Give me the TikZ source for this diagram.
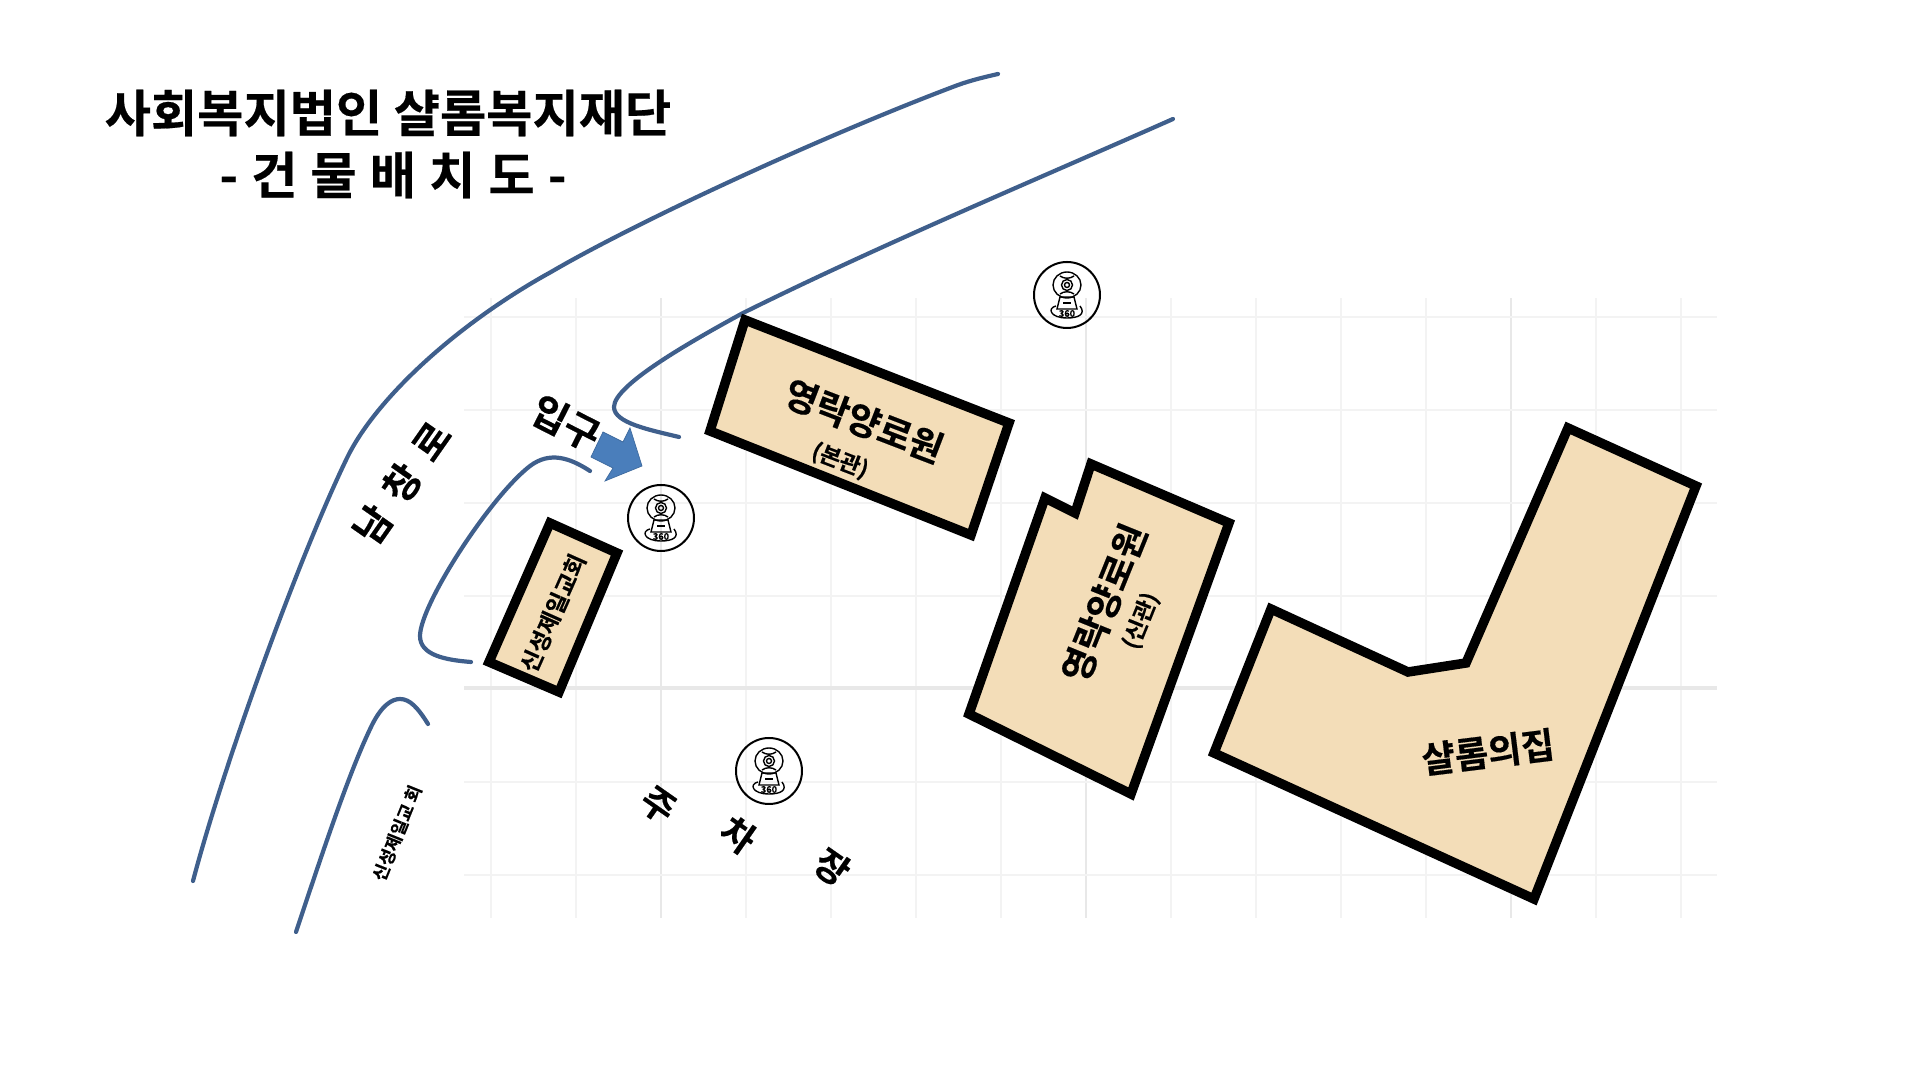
\documentclass[tikz,border=0pt]{standalone}
\usepackage{fontspec}
\setmainfont{Noto Sans CJK KR}[BoldFont={Noto Sans CJK KR Bold}, BoldFeatures={FakeBold=0.4}]
\usepackage{xcolor}
\definecolor{roadblue}{HTML}{3F5F8C}
\definecolor{arrowblue}{HTML}{4A7EBB}
\definecolor{buildfill}{HTML}{F3DDB8}
\definecolor{gridgray}{HTML}{F3F3F3}
\definecolor{gridmajor}{HTML}{E8E8E8}
\tikzset{
  road/.style={draw=roadblue, line width=0.042cm, line cap=round},
  building/.style={draw=black, fill=buildfill, line width=0.095cm, miter limit=10},
  gridline/.style={draw=gridgray, line width=0.4pt},
  majorline/.style={draw=gridmajor, line width=0.6pt},
  bigtext/.style={inner sep=0pt, font=\bfseries\fontsize{14.3}{17}\selectfont},
  buildtext/.style={inner sep=0pt, font=\bfseries\fontsize{10.3}{12}\selectfont},
  subtext/.style={inner sep=0pt, font=\bfseries\fontsize{6.4}{8}\selectfont},
  smalltext/.style={inner sep=0pt, font=\bfseries\fontsize{6.5}{8}\selectfont},
  tinytext/.style={inner sep=0pt, font=\bfseries\fontsize{5}{6}\selectfont},
  widetext/.style={inner sep=0pt, font=\bfseries\fontsize{11}{13}\selectfont, execute at begin node={\spaceskip=0.4em\relax}},
  pics/camera/.style={code={
    \draw[line width=0.02cm] (0,0) circle (33);
    % head and lens
    \draw[line width=0.014cm] (0,-10) ellipse (14 and 13);
    \draw[line width=0.014cm] (0,-10) circle (5.5);
    \draw[line width=0.014cm] (0,-10) circle (2.5);
    \draw[line width=0.014cm] (-7,-19) .. controls (-3,-16) and (3,-16) .. (7,-19);
    \draw[line width=0.014cm] (-7,-1) .. controls (-3,-4) and (3,-4) .. (7,-1);
    % base
    \draw[line width=0.014cm] (-7,2) -- (7,2) -- (10,14) -- (-10,14) -- cycle;
    \draw[line width=0.014cm] (-4,8) -- (4,8);
    \draw[line width=0.014cm] (-11,11) .. controls (-20,13) and (-17,23) .. (0,23) .. controls (12,23) and (19,19) .. (13,11);
    \node[inner sep=0pt, font=\bfseries\fontsize{2.6}{3}\selectfont] (tag) at (0,18.5) {360};
  }}
}
\begin{document}
\begin{tikzpicture}[x=0.01cm, y=-0.01cm]
  \useasboundingbox (0,0) rectangle (1920,1080);
  % site grid
  \foreach \i in {0,1,3,4,5,6,8,9,10,11,13,14}
    \draw[gridline] ({491+85*\i},298) -- ({491+85*\i},918);
  \foreach \i in {2,7,12}
    \draw[majorline] ({491+85*\i},298) -- ({491+85*\i},918);
  \foreach \i in {0,1,2,3,5,6}
    \draw[gridline] (464,{317+93*\i}) -- (1717,{317+93*\i});
  \draw[majorline, line width=0.9pt] (464,688) -- (1717,688);
  % roads
  \draw[road] (193,881) .. controls (225,760) and (300,555) .. (347,458) .. controls (375,400) and (455,325) .. (551,272) .. controls (640,220) and (830,133) .. (958,85) .. controls (972,80) and (985,77) .. (998,74);
  \draw[road] (1173,119) .. controls (1040,178) and (880,245) .. (743,313) .. controls (690,342) and (614,385) .. (614,407) .. controls (614,423) and (650,430) .. (679,437);
  \draw[road] (590,471) .. controls (570,458) and (550,451) .. (530,466) .. controls (490,497) and (420,605) .. (420,636) .. controls (420,655) and (445,660) .. (471,662);
  \draw[road] (296,932) .. controls (325,845) and (350,770) .. (372,725) .. controls (382,705) and (392,699) .. (400,699) .. controls (410,699) and (418,708) .. (428,724);
  % buildings
  \draw[building] (745,320) -- (1009,423) -- (971,535) -- (710,431) -- cycle;
  \draw[building] (1091,464) -- (1229,523) -- (1131,794) -- (969,714) -- (1045,498) -- (1075,513) -- cycle;
  \draw[building] (1568,428) -- (1696,486) -- (1534,899) -- (1214,753) -- (1271,609) -- (1408,672) -- (1466,663) -- cycle;
  \draw[building] (550,523) -- (617,553) -- (559,692) -- (489,662) -- cycle;
  % entrance arrow
  \filldraw[fill=arrowblue, draw=arrowblue!85!black, line width=0.2pt] (603,432) -- (623,442) -- (630,428) -- (642,466) -- (605,481) -- (613,468) -- (591,457) -- cycle;
  % cameras
  \pic (camnorth) at (1067,295) {camera};
  \pic (camgate) at (661,518) {camera};
  \pic (camyard) at (769,771) {camera};
  % labels
  \node[bigtext] (title) at (388,113) {사회복지법인 샬롬복지재단};
  \node[bigtext, execute at begin node={\spaceskip=0.26em\relax}] (subtitle) at (393,175) {- 건 물 배 치 도 -};
  \node[widetext, rotate=55] (roadname) at (402,483) {남 창 로};
  \node[inner sep=0pt, font=\bfseries\fontsize{11}{13}\selectfont, rotate=-27] (gate) at (566,423) {입구};
  \node[buildtext, rotate=-21] (mainname) at (864,421) {영락양로원};
  \node[subtext, rotate=-21] (mainsub) at (840,461) {(본관)};
  \node[buildtext, rotate=68] (newname) at (1104,603) {영락양로원};
  \node[subtext, rotate=68] (newsub) at (1141,621) {(신관)};
  \node[buildtext, rotate=7] (shalom) at (1488,752) {샬롬의집};
  \node[smalltext, rotate=66] (church) at (553,613) {신성제일교회};
  \node[tinytext, rotate=68] (churchroad) at (397,833) {신성제일교 회};
  \node[buildtext, rotate=-35] (parkone) at (658,805) {주};
  \node[buildtext, rotate=-35] (parktwo) at (738,835) {차};
  \node[buildtext, rotate=-35] (parkthree) at (832,867) {장};
\end{tikzpicture}
\end{document}
